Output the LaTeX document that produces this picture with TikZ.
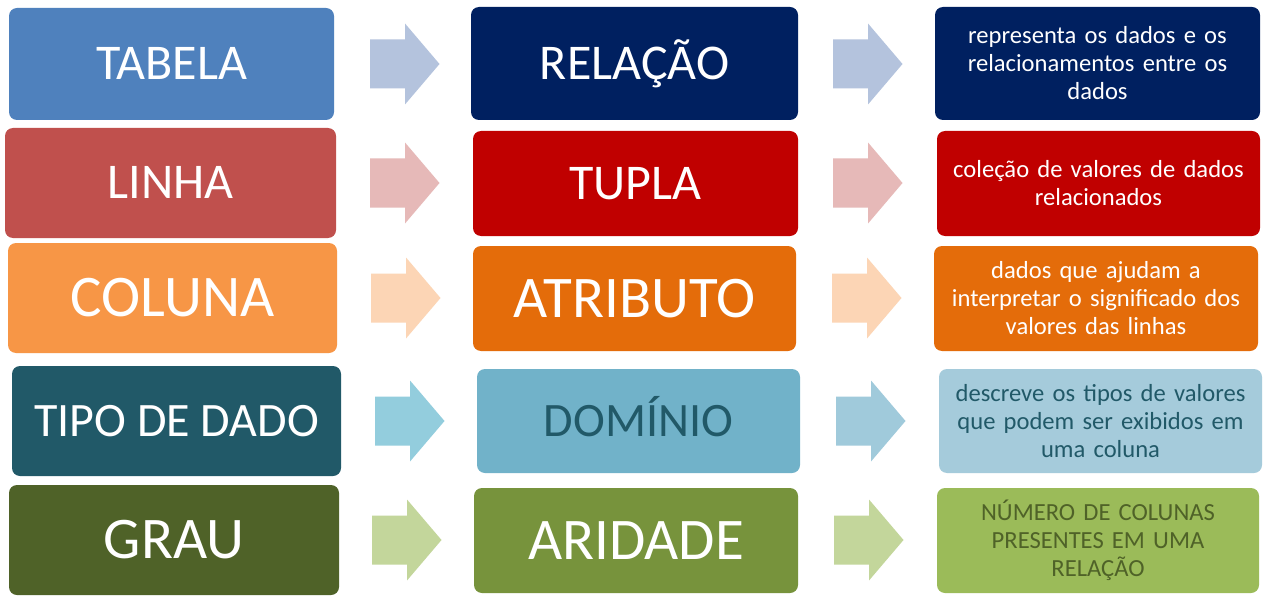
\documentclass[tikz,border=0pt]{standalone}
\usepackage{fontspec}
\setmainfont{Carlito}
\definecolor{cAL}{HTML}{4F81BD}
\definecolor{cAM}{HTML}{002060}
\definecolor{cAA}{HTML}{B4C3DD}
\definecolor{cBL}{HTML}{C0504D}
\definecolor{cBM}{HTML}{C00000}
\definecolor{cBA}{HTML}{E6B9B8}
\definecolor{cCL}{HTML}{F79646}
\definecolor{cCM}{HTML}{E46C0A}
\definecolor{cCA}{HTML}{FCD5B5}
\definecolor{cDL}{HTML}{215968}
\definecolor{cDM}{HTML}{71B2C9}
\definecolor{cDR}{HTML}{A5CBDB}
\definecolor{cDA}{HTML}{93CDDD}
\definecolor{cDB}{HTML}{A0CADB}
\definecolor{cEL}{HTML}{4F6228}
\definecolor{cEM}{HTML}{77933C}
\definecolor{cER}{HTML}{9BBB59}
\definecolor{cEA}{HTML}{C3D69B}
\tikzset{
  box/.style={rectangle, rounded corners=8pt, inner sep=0pt, draw=none, align=center, text=white},
  bigA/.style={font=\fontsize{50}{60}\selectfont, text height=32pt, text depth=0pt},
  bigB/.style={font=\fontsize{59}{70}\selectfont, text height=37.5pt, text depth=0pt},
  bigC/.style={font=\fontsize{48}{58}\selectfont, text height=30.5pt, text depth=0pt},
  small/.style={font=\fontsize{24.6}{28}\selectfont, text width=320pt}
}
% #1 name, #2 x1, #3 y1, #4 x2, #5 y2, #6 style, #7 text
\newcommand{\mybox}[7]{%
  \node[box, #6, minimum width={#4-#2}, minimum height={#5-#3}] (#1) at ({(#2+#4)/2},{(#3+#5)/2}) {#7};}
% #1 x left, #2 y centre, #3 colour
\newcommand{\blockarrow}[3]{%
  \fill[#3] ({#1},{#2-24.5}) -- ({#1+35},{#2-24.5}) -- ({#1+35},{#2-40.5}) -- ({#1+69.5},{#2}) -- ({#1+35},{#2+40.5}) -- ({#1+35},{#2+24.5}) -- ({#1},{#2+24.5}) -- cycle;}
\begin{document}
\begin{tikzpicture}[x=1pt,y=-1pt]
\useasboundingbox[fill=white] (0,0) rectangle (1268,604);
% row 1
\mybox{tabela}{9}{8}{334}{120}{fill=cAL,bigA}{TABELA}
\mybox{relacao}{471}{7}{798}{120}{fill=cAM,bigA}{RELAÇÃO}
\mybox{relacaoD}{935}{7}{1260}{120}{fill=cAM,small}{representa os dados e os\\relacionamentos entre os\\dados}
\blockarrow{370}{64}{cAA}
\blockarrow{833}{64}{cAA}
% row 2
\mybox{linha}{5}{128}{336}{238}{fill=cBL,bigA}{LINHA}
\mybox{tupla}{473}{131}{798}{236}{fill=cBM,bigA}{TUPLA}
\mybox{tuplaD}{937}{131}{1260}{236}{fill=cBM,small}{coleção de valores de dados\\relacionados}
\blockarrow{370}{183}{cBA}
\blockarrow{833}{183}{cBA}
% row 3
\mybox{coluna}{8}{243}{337}{353}{fill=cCL,bigB}{COLUNA}
\mybox{atributo}{473}{246}{796}{351}{fill=cCM,bigB}{ATRIBUTO}
\mybox{atributoD}{934}{246}{1258}{351}{fill=cCM,small}{dados que ajudam a\\interpretar o significado dos\\valores das linhas}
\blockarrow{371}{298}{cCA}
\blockarrow{832}{298}{cCA}
% row 4
\mybox{tipo}{12}{366}{341}{476}{fill=cDL,bigC}{TIPO DE DADO}
\mybox{dominio}{477}{369}{800}{473}{fill=cDM,bigC,text=cDL}{DOMÍNIO}
\mybox{dominioD}{939}{369}{1262}{473}{fill=cDR,small,text=cDL}{descreve os tipos de valores\\que podem ser exibidos em\\uma coluna}
\blockarrow{375}{421}{cDA}
\blockarrow{836}{421}{cDB}
% row 5
\mybox{grau}{9}{485}{339}{595}{fill=cEL,bigB}{GRAU}
\mybox{aridade}{474}{488}{798}{593}{fill=cEM,bigB}{ARIDADE}
\mybox{aridadeD}{937}{488}{1259}{593}{fill=cER,small,text=cEL}{NÚMERO DE COLUNAS\\PRESENTES EM UMA\\RELAÇÃO}
\blockarrow{372}{540}{cEA}
\blockarrow{834}{540}{cEA}
\end{tikzpicture}
\end{document}
